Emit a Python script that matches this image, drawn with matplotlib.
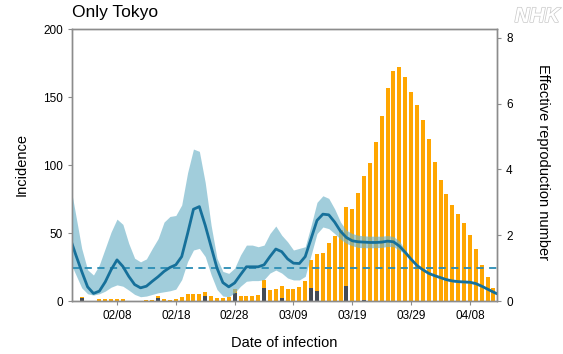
import numpy as np
import pandas as pd
import matplotlib
matplotlib.use("Agg")
import matplotlib.pyplot as plt
import matplotlib.patheffects as pe

plt.rcParams['font.family'] = ['Liberation Sans', 'DejaVu Sans']

# Daily incidence (by date of infection), 2020-02-01 .. 2020-04-12
incidence_total = [
    0, 3.2, 0, 0, 1.5, 1.7, 1.7, 1.5, 1.2, 0,
    0, 0, 0.5, 0.7, 3.7, 1.2, 0.7, 1.5, 2.7, 5.1,
    5.1, 4.9, 6.9, 3.9, 2.5, 2.5, 3.2, 8.5, 3.9,            # Feb
    3.9, 3.6, 4.7, 15.4, 8.0, 8.7, 11.3, 8.7, 8.8, 10.2,
    14.5, 30.1, 34.8, 35.5, 42.4, 47.8, 52.2, 68.9, 67.4, 79.6,
    91.9, 101.2, 116.7, 136.3, 156.4, 169.4, 171.8, 164.5, 153.9, 144.1,
    133.1,                                                   # Mar
    119.1, 102.4, 89.0, 78.4, 70.6, 63.7, 57.1, 48.5, 38.2, 26.5,
    17.4, 9.8,                                               # Apr
]
# Imported cases (dark part of the bars)
imported_dates = ['2020-02-02', '2020-02-15', '2020-02-23', '2020-02-28', '2020-03-04',
                  '2020-03-07', '2020-03-12', '2020-03-13', '2020-03-18', '2020-03-21']
imported_values = [2.5, 2.5, 3.9, 5.6, 9.3, 2.5, 9.8, 7.4, 11.3, 1.0]

# Effective reproduction number, 2020-01-31 .. 2020-04-13
rt_median = [
    1.93, 1.40, 0.90, 0.43, 0.23, 0.30, 0.58, 0.95, 1.25, 1.05,
    0.75, 0.50, 0.40, 0.45, 0.60, 0.74, 0.90, 1.02, 1.10, 1.35,
    2.05, 2.79, 2.87, 2.30, 1.65, 1.00, 0.56, 0.43, 0.55, 0.80,
    1.04, 1.04, 1.04, 1.10, 1.35, 1.58, 1.50, 1.28, 1.15, 1.14,
    1.35, 1.90, 2.45, 2.64, 2.62, 2.40, 2.12, 1.93, 1.83, 1.80,
    1.79, 1.78, 1.78, 1.79, 1.82, 1.80, 1.67, 1.48, 1.27, 1.08,
    0.95, 0.84, 0.77, 0.71, 0.65, 0.61, 0.59, 0.58, 0.57, 0.53,
    0.45, 0.36, 0.27, 0.19,
]
rt_lower = [
    1.20, 0.80, 0.40, 0.22, 0.18, 0.22, 0.30, 0.42, 0.49, 0.45,
    0.33, 0.20, 0.13, 0.15, 0.20, 0.25, 0.28, 0.31, 0.36, 0.65,
    1.20, 1.55, 1.60, 1.35, 0.80, 0.35, 0.15, 0.13, 0.25, 0.45,
    0.60, 0.62, 0.62, 0.65, 0.85, 0.94, 0.85, 0.70, 0.64, 0.64,
    0.75, 1.40, 2.05, 2.25, 2.20, 2.05, 1.88, 1.75, 1.68, 1.63,
    1.62, 1.62, 1.62, 1.63, 1.66, 1.65, 1.55, 1.42, 1.24, 1.05,
    0.92, 0.81, 0.74, 0.68, 0.62, 0.58, 0.56, 0.55, 0.54, 0.50,
    0.42, 0.33, 0.24, 0.16,
]
rt_upper = [
    3.60, 2.60, 1.60, 0.95, 0.79, 1.10, 1.60, 2.10, 2.49, 2.33,
    1.75, 1.30, 1.19, 1.28, 1.60, 1.90, 2.40, 2.57, 2.60, 2.92,
    3.90, 4.62, 4.55, 3.60, 2.30, 1.30, 0.90, 0.84, 1.00, 1.40,
    1.70, 1.70, 1.65, 1.70, 2.05, 2.28, 2.00, 1.80, 1.55, 1.60,
    1.65, 2.30, 3.00, 3.20, 3.12, 2.80, 2.40, 2.15, 2.05, 2.00,
    1.98, 1.97, 1.97, 1.97, 1.99, 1.96, 1.82, 1.55, 1.30, 1.11,
    0.98, 0.87, 0.80, 0.74, 0.68, 0.64, 0.62, 0.61, 0.60, 0.56,
    0.48, 0.39, 0.30, 0.22,
]

tick_labels = ['02/08', '02/18', '02/28', '03/09', '03/19', '03/29', '04/08']

# x positions: days since 2020-02-01
origin = pd.Timestamp('2020-02-01')
bar_dates = pd.date_range('2020-02-01', periods=len(incidence_total))
rt_dates = pd.date_range('2020-01-31', periods=len(rt_median))
x_bar = (bar_dates - origin).days.values
x_rt = (rt_dates - origin).days.values
x_imp = (pd.to_datetime(imported_dates) - origin).days.values
x_ticks = [(pd.Timestamp('2020-' + t.replace('/', '-')) - origin).days for t in tick_labels]

orange = '#ffa600'
dark = '#444b55'
band = '#6fb3c9'
line_col = '#16709a'
spine_col = '#8c8c8c'

fig = plt.figure(figsize=(5.63, 3.54), dpi=100)
ax = fig.add_axes([72 / 563, 1 - 301 / 354, (497 - 72) / 563, (301 - 29) / 354])
ax2 = ax.twinx()

ax.bar(x_bar, incidence_total, width=0.68, color=orange, linewidth=0)
ax.bar(x_imp, imported_values, width=0.68, color=dark, linewidth=0)

ax2.fill_between(x_rt, rt_lower, rt_upper, color=band, alpha=0.65, linewidth=0)
ax2.axhline(1, color='#2a8cb4', linestyle=(0, (4, 3)), linewidth=1.3)
ax2.plot(x_rt, rt_median, color=line_col, linewidth=2)

ax.set_xlim(-0.65, 71.6)
ax.set_ylim(0, 200)
ax2.set_ylim(0, 8.27)
ax.set_yticks([0, 50, 100, 150, 200])
ax2.set_yticks([0, 2, 4, 6, 8])
ax.set_xticks(x_ticks)
ax.set_xticklabels(tick_labels)

for a in (ax, ax2):
    for s in a.spines.values():
        s.set_color(spine_col)
        s.set_linewidth(1.0)
    a.tick_params(colors=spine_col, labelcolor='black', labelsize=8.5, length=3, width=0.8)

fig.text(72 / 563, 1 - 17 / 354, 'Only Tokyo', fontsize=12.5, ha='left', va='baseline')
fig.text(284 / 563, 1 - 343 / 354, 'Date of infection', fontsize=10.5, ha='center', va='center')
fig.text(22 / 563, 1 - 165 / 354, 'Incidence', fontsize=10.5, rotation=90, ha='center', va='center')
fig.text(543 / 563, 1 - 162 / 354, 'Effective reproduction number', fontsize=10.5,
         rotation=270, ha='center', va='center')
fig.text(560 / 563, 1 - 22 / 354, 'NHK', fontsize=15, style='italic', weight='bold',
         color='white', ha='right', va='baseline',
         path_effects=[pe.withStroke(linewidth=1.0, foreground='#c8c8c8')])

fig.savefig('out.png', dpi=100)
